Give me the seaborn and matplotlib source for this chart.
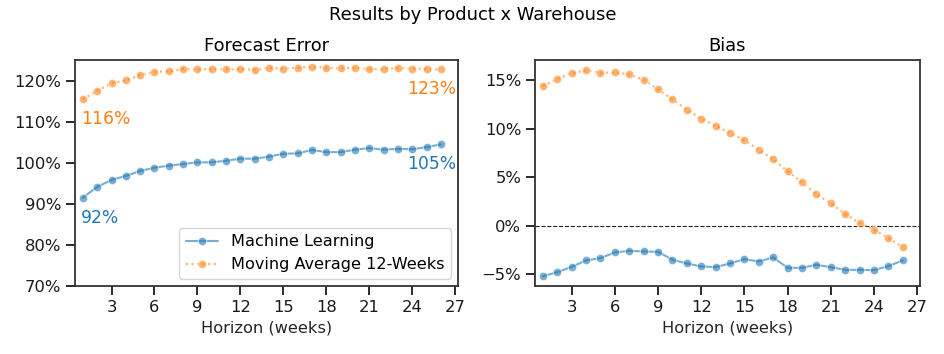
import numpy as np
import pandas as pd
import seaborn as sns
import matplotlib
matplotlib.use("Agg")
import matplotlib.pyplot as plt
from matplotlib.ticker import PercentFormatter, MultipleLocator

horizon = list(range(1, 27))
models = ["Machine Learning", "Moving Average 12-Weeks"]

error_ml = [91.6, 94.2, 95.9, 96.9, 98.1, 98.9, 99.4, 99.8, 100.2, 100.2,
            100.6, 101.1, 101.1, 101.6, 102.3, 102.4, 103.2, 102.7, 102.7, 103.3,
            103.7, 103.3, 103.5, 103.4, 103.9, 104.6]
error_ma = [115.6, 117.7, 119.5, 120.2, 121.5, 122.3, 122.4, 123.0, 122.9, 123.0,
            122.9, 123.0, 122.8, 123.3, 123.1, 123.3, 123.6, 123.3, 123.2, 123.3,
            123.0, 122.9, 123.3, 123.1, 123.0, 122.9]
bias_ml = [-5.19, -4.78, -4.23, -3.57, -3.33, -2.75, -2.58, -2.65, -2.68, -3.50,
           -3.88, -4.19, -4.26, -3.88, -3.44, -3.68, -3.26, -4.33, -4.33, -4.02,
           -4.26, -4.54, -4.54, -4.57, -4.16, -3.57]
bias_ma = [14.36, 15.12, 15.67, 15.98, 15.74, 15.77, 15.57, 15.02, 14.02, 13.02,
           11.92, 11.03, 10.27, 9.52, 8.80, 7.80, 6.84, 5.60, 4.47, 3.23,
           2.30, 1.20, 0.27, -0.41, -1.27, -2.23]

xticks = [3, 6, 9, 12, 15, 18, 21, 24, 27]

sns.set_theme(style="ticks")
plt.rcParams.update({
    "font.family": ["DejaVu Sans"],
    "axes.edgecolor": ".2",
    "axes.linewidth": 1.3,
    "xtick.major.size": 6.4,
    "ytick.major.size": 6.4,
    "xtick.major.width": 1.3,
    "ytick.major.width": 1.3,
    "xtick.labelsize": 11.8,
    "ytick.labelsize": 11.8,
    "text.color": "black",
    "xtick.color": ".1",
    "ytick.color": ".1",
})

def long_df(a, b):
    return pd.DataFrame({
        "Horizon": horizon + horizon,
        "value": list(a) + list(b),
        "Model": [models[0]] * len(a) + [models[1]] * len(b),
    })

df_err = long_df(error_ml, error_ma)
df_bias = long_df(bias_ml, bias_ma)

palette = {models[0]: "#1f77b4", models[1]: "#ff7f0e"}
dashes = {models[0]: "", models[1]: (1, 1.65)}
markers = {models[0]: "o", models[1]: "o"}

fig = plt.figure(figsize=(9.45, 3.54), dpi=100)
ax1 = fig.add_axes([75 / 945, 1 - 286 / 354, 383 / 945, 226 / 354])
ax2 = fig.add_axes([535 / 945, 1 - 286 / 354, 385 / 945, 226 / 354])

for ax, df, title in [(ax1, df_err, "Forecast Error"), (ax2, df_bias, "Bias")]:
    sns.lineplot(data=df, x="Horizon", y="value", hue="Model", style="Model",
                 palette=palette, dashes=dashes, markers=markers,
                 markersize=6, linewidth=1.5, alpha=0.6, ax=ax)
    ax.set_title(title, fontsize=12.9, pad=6.5)
    ax.set_xlabel("Horizon (weeks)", fontsize=11.7)
    ax.set_ylabel("")
    ax.set_xticks(xticks)
    ax.set_xlim(0.45, 27.2)
    ax.yaxis.set_major_formatter(PercentFormatter(100, decimals=0))

ax1.set_ylim(70, 125.2)
ax1.yaxis.set_major_locator(MultipleLocator(10))
ax2.set_ylim(-6.2, 17.05)
ax2.yaxis.set_major_locator(MultipleLocator(5))
ax2.axhline(0, color="#222222", ls="--", lw=0.8, zorder=0)

handles, labels = ax1.get_legend_handles_labels()
ax1.legend(handles, labels, loc="lower right", fontsize=11.6, frameon=True,
           borderaxespad=0.45)
ax2.get_legend().remove()

# value annotations on the error panel
for series, color in [(error_ml, "#1f77b4"), (error_ma, "#ff7f0e")]:
    ax1.annotate(f"{series[0]:.0f}%", xy=(horizon[0], series[0]),
                 xytext=(-2, -20), textcoords="offset pixels",
                 ha="left", va="center", color=color, fontsize=12.3)
    ax1.annotate(f"{series[-1]:.0f}%", xy=(horizon[-1], series[-1]),
                 xytext=(15, -20), textcoords="offset pixels",
                 ha="right", va="center", color=color, fontsize=12.3)

fig.suptitle("Results by Product x Warehouse", fontsize=12.9, y=0.958, va="center")
fig.savefig("out.png", dpi=100)
